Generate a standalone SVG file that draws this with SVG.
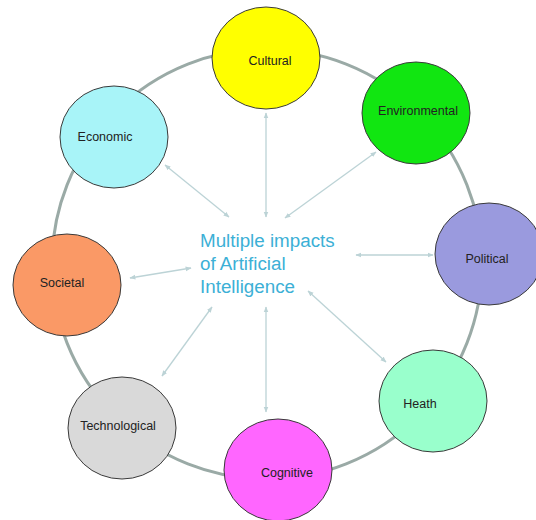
<svg xmlns="http://www.w3.org/2000/svg" width="536" height="520" viewBox="0 0 536 520">
<style>
.node{stroke:#3a3a3a;stroke-width:1}
.lbl{font-family:"Liberation Sans",Arial,sans-serif;font-size:12.5px;fill:#222;text-anchor:middle}
.conn{stroke:#bcd3d6;stroke-width:1.3;fill:none;marker-start:url(#ah);marker-end:url(#ah)}
.title{font-family:"Liberation Sans",Arial,sans-serif;font-size:18.8px;fill:#3cb0d6}
</style>
<defs>
<marker id="ah" viewBox="0 0 10 10" refX="9" refY="5" markerWidth="6" markerHeight="6" markerUnits="userSpaceOnUse" orient="auto-start-reverse">
<path d="M0,1 L10,5 L0,9 Z" fill="#bcd3d6"/>
</marker>
</defs>
<rect width="536" height="520" fill="#ffffff"/>
<circle id="ring" cx="267" cy="264" r="215" fill="none" stroke="#9aaaa6" stroke-width="3"/>
<g id="connectors">
<line class="conn" x1="266" y1="113" x2="266" y2="217"/>
<line class="conn" x1="165" y1="165" x2="229" y2="217"/>
<line class="conn" x1="376" y1="152" x2="285" y2="218"/>
<line class="conn" x1="356" y1="255" x2="433" y2="255"/>
<line class="conn" x1="130" y1="278" x2="191" y2="268"/>
<line class="conn" x1="162" y1="376" x2="212" y2="307"/>
<line class="conn" x1="266" y1="307" x2="266" y2="412"/>
<line class="conn" x1="308" y1="291" x2="386" y2="362"/>
</g>
<g id="cultural"><ellipse class="node" cx="266" cy="58" rx="54" ry="51" fill="#ffff00"/><text class="lbl" x="270" y="65">Cultural</text></g>
<g id="environmental"><ellipse class="node" cx="416" cy="113" rx="54" ry="51" fill="#11e611"/><text class="lbl" x="418" y="115">Environmental</text></g>
<g id="economic"><ellipse class="node" cx="114" cy="137" rx="54" ry="51" fill="#a8f4f8"/><text class="lbl" x="105" y="141">Economic</text></g>
<g id="political"><ellipse class="node" cx="489" cy="254" rx="54" ry="51" fill="#9a9ade"/><text class="lbl" x="487" y="263">Political</text></g>
<g id="societal"><ellipse class="node" cx="67" cy="285" rx="54" ry="51" fill="#fa9966"/><text class="lbl" x="62" y="287">Societal</text></g>
<g id="technological"><ellipse class="node" cx="122" cy="428" rx="54" ry="51" fill="#d9d9d9"/><text class="lbl" x="118" y="430">Technological</text></g>
<g id="cognitive"><ellipse class="node" cx="278" cy="470" rx="54" ry="51" fill="#ff66ff"/><text class="lbl" x="287" y="477">Cognitive</text></g>
<g id="heath"><ellipse class="node" cx="433" cy="401" rx="54" ry="51" fill="#99ffcc"/><text class="lbl" x="420" y="408">Heath</text></g>
<g id="center">
<text class="title" x="200" y="247">Multiple impacts</text>
<text class="title" x="200" y="270">of Artificial</text>
<text class="title" x="200" y="293">Intelligence</text>
</g>
</svg>
